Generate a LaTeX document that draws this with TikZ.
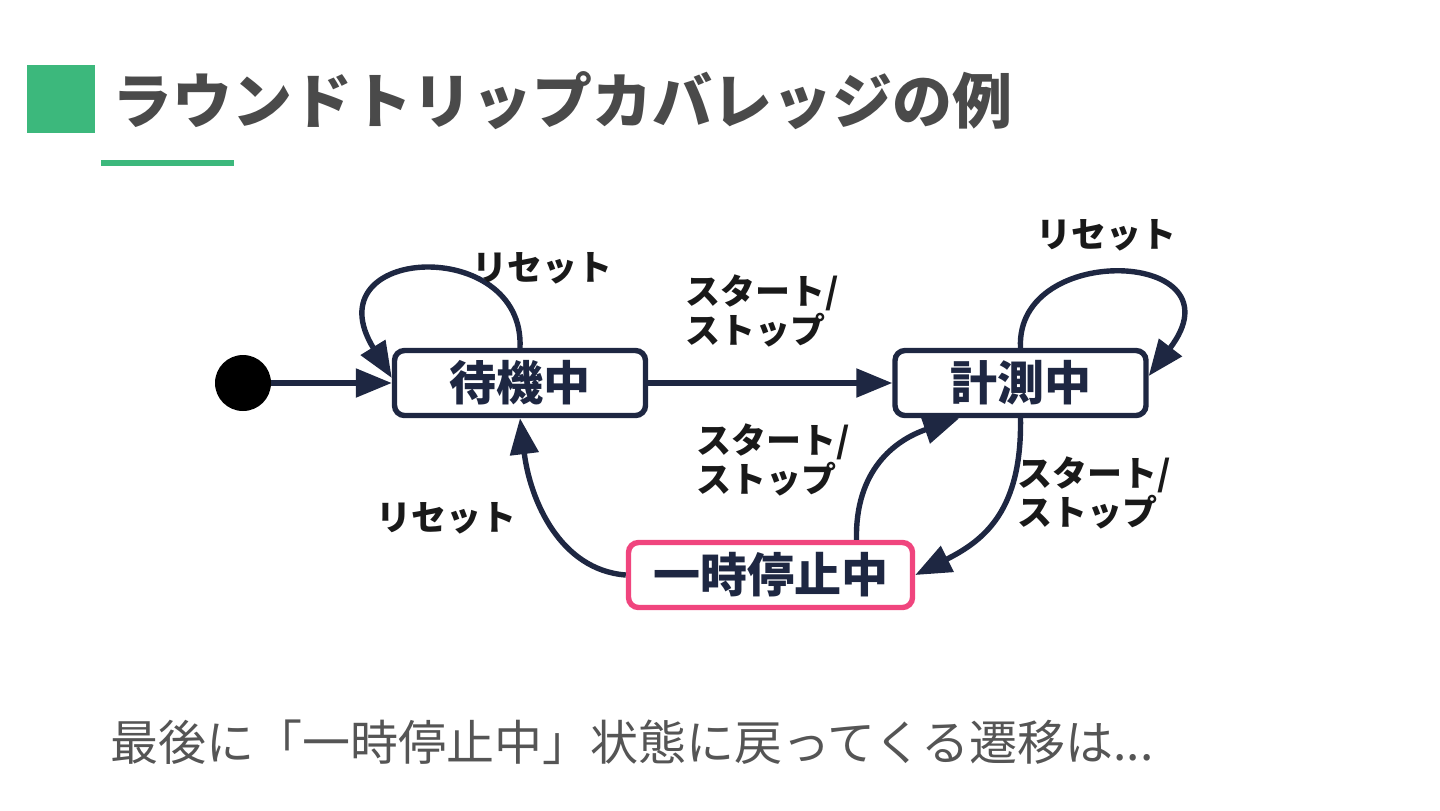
\documentclass[tikz,border=0pt]{standalone}
\usepackage{fontspec}
\setmainfont{Noto Sans CJK JP}
\usetikzlibrary{arrows.meta,calc}
\definecolor{navy}{HTML}{1E2742}
\definecolor{grn}{HTML}{3CB87C}
\definecolor{pnk}{HTML}{F0457E}
\definecolor{ttl}{HTML}{4A4A4A}
\definecolor{body}{HTML}{555555}
\tikzset{
  state/.style={draw=navy, line width=2.7pt, rounded corners=5pt, fill=white,
    minimum height=32.5pt, inner sep=0pt, text=navy,
    font=\bfseries\fontsize{23.5}{27}\selectfont},
  lbl/.style={inner sep=0pt, anchor=west, align=left, text=black!90,
    font=\bfseries\fontsize{17.5}{19.5}\selectfont},
  conn/.style={draw=navy, line width=2.7pt, -{Triangle[length=18pt,width=14pt]}},
}
\begin{document}
\begin{tikzpicture}[x=0.5pt,y=-0.5pt]
\useasboundingbox (0,0) rectangle (1440,810);
% title
\fill[grn] (27,65) rectangle (95,133);
\fill[grn] (101,160) rectangle (234,166);
\node[anchor=base west, inner sep=0pt, text=ttl, font=\bfseries\fontsize{30}{34}\selectfont] (title) at (112,123) {ラウンドトリップカバレッジの例};
% states
\fill[black] (243,383) circle (14pt);
\coordinate (dot) at (271,383);
\node[state, minimum width=125.5pt] (wait) at (520,383) {待機中};
\node[state, minimum width=125.5pt] (meas) at (1020.5,383) {計測中};
\node[state, draw=pnk, minimum width=142pt] (pause) at (770.5,575) {一時停止中};
% connectors
\draw[conn] (dot) -- (wait.west);
\draw[conn] (wait.east) -- (meas.west);
\draw[conn] (wait.north) .. controls (525,235) and (310,245) .. ($(wait.west)+(0,-5)$);
\draw[conn] (meas.north) .. controls (1015,240) and (1245,250) .. ($(meas.east)+(0,-7)$);
\draw[conn] (meas.south) .. controls (1022,510) and (985,540) .. (pause.east);
\draw[conn] ($(pause.north)+(86,0)$) .. controls (855,470) and (895,440) .. ($(meas.south west)+(67,0)$);
\draw[conn] (pause.west) .. controls (560,570) and (530,500) .. (wait.south);
% labels
\node[lbl] (l1) at (472,268) {リセット};
\node[lbl] (l2) at (1036,235) {リセット};
\node[lbl] (l3) at (376,518) {リセット};
\node[lbl] (l4) at (685,311) {スタート/\\ストップ};
\node[lbl] (l5) at (696,460) {スタート/\\ストップ};
\node[lbl] (l6) at (1017,493) {スタート/\\ストップ};
% bottom text
\node[anchor=base west, inner sep=0pt, text=body, font=\fontsize{24}{27}\selectfont] (note) at (110,760) {最後に「一時停止中」状態に戻ってくる遷移は...};
\end{tikzpicture}
\end{document}
